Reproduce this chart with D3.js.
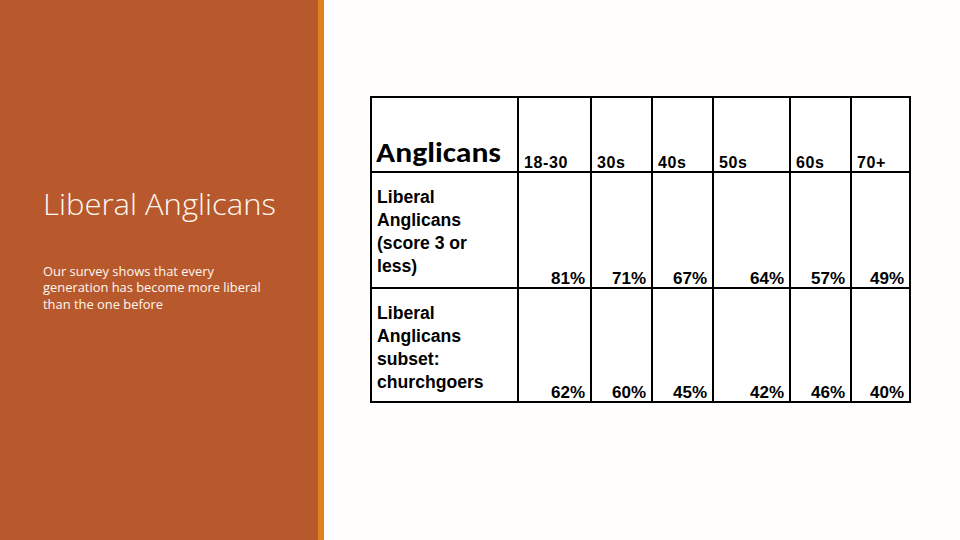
<!DOCTYPE html>
<html><head><meta charset="utf-8">
<script src="https://cdn.jsdelivr.net/npm/d3@7"></script>
<style>
html,body{margin:0;padding:0;background:#fffefc;}
svg{display:block;}
</style></head>
<body>
<svg id="c" width="960" height="540"></svg>
<script>
// ---- data ----
const title = "Liberal Anglicans";
const subtitleLines = ["Our survey shows that every", "generation has become more liberal", "than the one before"];
const cornerLabel = "Anglicans";
const ageGroups = ["18-30", "30s", "40s", "50s", "60s", "70+"];
const rowLabels = [
  ["Liberal", "Anglicans", "(score 3 or", "less)"],
  ["Liberal", "Anglicans", "subset:", "churchgoers"]
];
const liberalAll = [81, 71, 67, 64, 57, 49];
const liberalChurchgoers = [62, 60, 45, 42, 46, 40];
const rowValues = [liberalAll, liberalChurchgoers];

// ---- layout ----
const svg = d3.select("#c");
svg.append("rect").attr("x",0).attr("y",0).attr("width",960).attr("height",540).attr("fill","#fffefc");
svg.append("rect").attr("x",0).attr("y",0).attr("width",318).attr("height",540).attr("fill","#b8582d");
svg.append("rect").attr("x",318).attr("y",0).attr("width",6).attr("height",540).attr("fill","#df7f1e");

svg.append("text").attr("x",43).attr("y",215).text(title)
  .attr("fill","#fff8f0").attr("font-family","'Open Sans', sans-serif").attr("font-weight",300)
  .attr("font-size",29).attr("textLength",233).attr("lengthAdjust","spacingAndGlyphs");
svg.selectAll("text.sub").data(subtitleLines).join("text").attr("class","sub")
  .attr("x",43).attr("y",(d,i)=>276+i*16.3).text(d=>d)
  .attr("fill","#fff8f0").attr("font-family","'Open Sans', sans-serif").attr("font-size",12.9);

// columns: first is label column, then ages
const colEdges = [371, 518, 591, 652, 713, 790, 851, 910];
const rowEdges = [97, 172, 288, 402];
const x = d3.scaleOrdinal().domain(["label", ...ageGroups]).range(colEdges.slice(0,-1));
const xEnd = d3.scaleOrdinal().domain(["label", ...ageGroups]).range(colEdges.slice(1));
const y = d3.scaleOrdinal().domain(["head","r0","r1"]).range(rowEdges.slice(0,-1));
const yEnd = d3.scaleOrdinal().domain(["head","r0","r1"]).range(rowEdges.slice(1));

const g = svg.append("g");
g.append("rect").attr("x",colEdges[0]).attr("y",rowEdges[0])
  .attr("width",colEdges[colEdges.length-1]-colEdges[0]).attr("height",rowEdges[rowEdges.length-1]-rowEdges[0])
  .attr("fill","#ffffff");

// header
g.append("text").attr("x",x("label")+5).attr("y",yEnd("head")-10).text(cornerLabel)
  .attr("font-family","Carlito, 'Open Sans', sans-serif").attr("font-weight",700).attr("font-size",29)
  .attr("textLength",125).attr("lengthAdjust","spacingAndGlyphs").attr("fill","#000");
g.selectAll("text.age").data(ageGroups).join("text").attr("class","age")
  .attr("x",d=>x(d)+6).attr("y",yEnd("head")-4).text(d=>d)
  .attr("font-family","'Liberation Sans', Arial, sans-serif").attr("font-weight",700).attr("font-size",16)
  .attr("letter-spacing",0.6).attr("fill","#000");

// rows
rowLabels.forEach((lines,ri)=>{
  const key = "r"+ri;
  g.selectAll("text.lab"+ri).data(lines).join("text").attr("class","lab"+ri)
    .attr("x",x("label")+6).attr("y",(d,i)=>y(key)+31+i*23).text(d=>d)
    .attr("font-family","'Liberation Sans', Arial, sans-serif").attr("font-weight",700).attr("font-size",17.6).attr("fill","#000");
  g.selectAll("text.val"+ri).data(rowValues[ri]).join("text").attr("class","val"+ri)
    .attr("x",(d,i)=>xEnd(ageGroups[i])-6).attr("y",yEnd(key)-4).attr("text-anchor","end")
    .text(d=>d+"%")
    .attr("font-family","'Liberation Sans', Arial, sans-serif").attr("font-weight",700).attr("font-size",17).attr("fill","#000");
});

// grid lines
g.selectAll("line.v").data(colEdges).join("line").attr("class","v")
  .attr("x1",d=>d).attr("x2",d=>d).attr("y1",rowEdges[0]-1).attr("y2",rowEdges[rowEdges.length-1]+1)
  .attr("stroke","#000").attr("stroke-width",2);
g.selectAll("line.h").data(rowEdges).join("line").attr("class","h")
  .attr("y1",d=>d).attr("y2",d=>d).attr("x1",colEdges[0]-1).attr("x2",colEdges[colEdges.length-1]+1)
  .attr("stroke","#000").attr("stroke-width",2);
</script>
</body></html>
